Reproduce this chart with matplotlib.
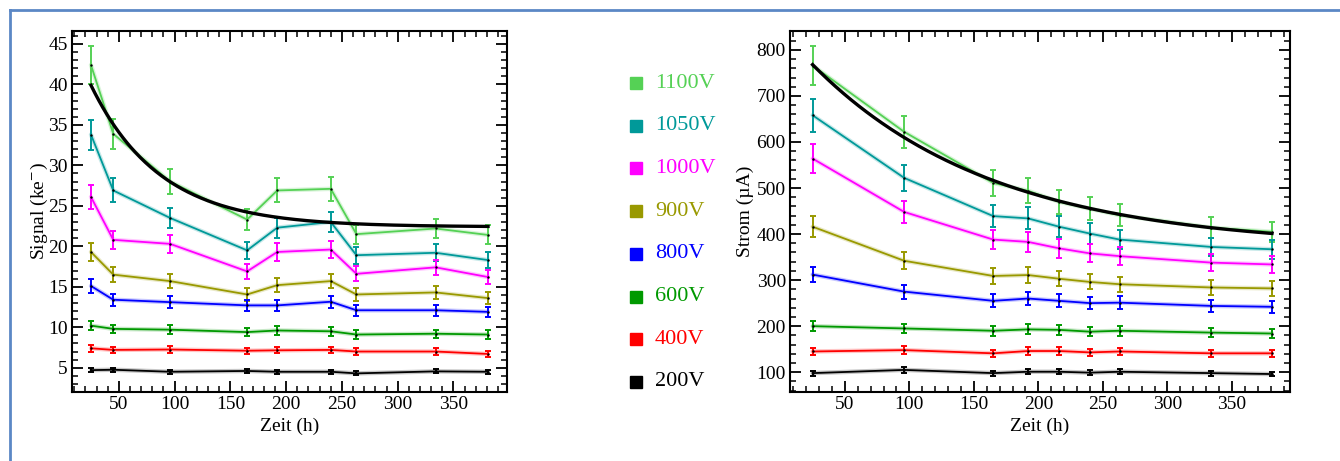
import numpy as np
import matplotlib.pyplot as plt
from matplotlib.lines import Line2D
from matplotlib.patches import Rectangle
from matplotlib.ticker import MultipleLocator

plt.rcParams["font.family"] = ["Liberation Serif", "DejaVu Serif"]
plt.rcParams["mathtext.fontset"] = "stix"

# ---- data ----
voltages = ["1100V", "1050V", "1000V", "900V", "800V", "600V", "400V", "200V"]
colors = ["#55d155", "#009999", "#ff00ff", "#999900", "#0000ff", "#009900", "#ff0000", "#000000"]

zeit_signal = [25, 45, 96, 165, 192, 240, 263, 334, 381]
signal_1100 = [42.4, 33.9, 28.0, 23.3, 26.9, 27.1, 21.5, 22.2, 21.4]
signal_1050 = [33.8, 26.9, 23.5, 19.5, 22.3, 23.0, 18.9, 19.2, 18.3]
signal_1000 = [26.1, 20.8, 20.3, 16.9, 19.3, 19.6, 16.6, 17.4, 16.2]
signal_900 = [19.3, 16.5, 15.7, 14.05, 15.2, 15.7, 14.05, 14.3, 13.6]
signal_800 = [15.1, 13.4, 13.1, 12.7, 12.7, 13.15, 12.1, 12.1, 11.9]
signal_600 = [10.2, 9.8, 9.7, 9.4, 9.6, 9.5, 9.1, 9.2, 9.1]
signal_400 = [7.4, 7.2, 7.25, 7.1, 7.15, 7.2, 7.0, 7.0, 6.7]
signal_200 = [4.7, 4.75, 4.5, 4.6, 4.5, 4.5, 4.3, 4.55, 4.5]
signal_rel_err = 0.055

zeit_strom = [25, 96, 165, 192, 216, 240, 263, 334, 381]
strom_1100 = [766, 622, 511, 494, 470, 455, 441, 414, 405]
strom_1050 = [658, 522, 439, 434, 416, 401, 388, 372, 367]
strom_1000 = [564, 448, 388, 383, 369, 358, 352, 338, 334]
strom_900 = [416, 342, 309, 311, 303, 296, 291, 284, 282]
strom_800 = [312, 275, 255, 260, 255, 250, 251, 244, 242]
strom_600 = [200, 195, 190, 193, 192, 188, 190, 186, 184]
strom_400 = [145, 148, 141, 146, 146, 143, 145, 141, 141]
strom_200 = [98, 105, 98, 101, 101, 99, 101, 98, 96]
strom_rel_err = 0.055

# exponential fit parameters (asymptote, start value, start time, decay time)
signal_fit = (22.4, 39.9, 25, 62.0)
strom_fit = (370.0, 768.0, 25, 140.0)

signal_series = [signal_1100, signal_1050, signal_1000, signal_900,
                 signal_800, signal_600, signal_400, signal_200]
strom_series = [strom_1100, strom_1050, strom_1000, strom_900,
                strom_800, strom_600, strom_400, strom_200]

W, H = 1340, 461
fig = plt.figure(figsize=(W / 100, H / 100), dpi=100)


def px_axes(x0, y0, x1, y1):
    return fig.add_axes([x0 / W, 1 - y1 / H, (x1 - x0) / W, (y1 - y0) / H])


def draw_panel(ax, t, series, rel_err, fit, xmaj, ymaj, ymin_loc):
    for vals, c in zip(series, colors):
        vals = np.asarray(vals, dtype=float)
        ax.plot(t, vals, color=c, lw=3.2, alpha=0.22, solid_capstyle="round", zorder=2)
        ax.errorbar(t, vals, yerr=vals * rel_err, color=c, lw=1.3, elinewidth=1.4,
                    capsize=2.5, capthick=1.4, zorder=3)
        ax.scatter(t, vals, s=3, color="black", zorder=4, linewidths=0)
    a, y0, x0, tau = fit
    tt = np.linspace(t[0], t[-1], 300)
    ax.plot(tt, a + (y0 - a) * np.exp(-(tt - x0) / tau), color="black", lw=2.4, zorder=5)
    ax.xaxis.set_major_locator(MultipleLocator(xmaj))
    ax.xaxis.set_minor_locator(MultipleLocator(10))
    ax.yaxis.set_major_locator(MultipleLocator(ymaj))
    ax.yaxis.set_minor_locator(MultipleLocator(ymin_loc))
    ax.tick_params(which="both", direction="in", top=True, right=True, labelsize=14, pad=3)
    ax.tick_params(which="major", length=8, width=1.3)
    ax.tick_params(which="minor", length=4.5, width=1.1)
    for s in ax.spines.values():
        s.set_linewidth(1.5)
    ax.set_xlabel("Zeit (h)", fontsize=14, labelpad=3)


ax1 = px_axes(72, 31, 507, 392)
draw_panel(ax1, zeit_signal, signal_series, signal_rel_err, signal_fit, 50, 5, 1)
ax1.set_xlim(8, 398)
ax1.set_ylim(2.0, 46.6)
ax1.set_ylabel("Signal (ke$^{-}$)", fontsize=14, labelpad=-1)

ax2 = px_axes(790, 31, 1290, 392)
draw_panel(ax2, zeit_strom, strom_series, strom_rel_err, strom_fit, 50, 100, 20)
ax2.set_xlim(7.5, 395)
ax2.set_ylim(57, 841)
ax2.set_ylabel("Strom (µA)", fontsize=14, labelpad=2)

# legend between the panels
for i, (lab, c) in enumerate(zip(voltages, colors)):
    yc = 83 + i * 42.7
    fig.patches.append(Rectangle((630 / W, 1 - (yc + 6) / H), 12 / W, 12 / H,
                                 transform=fig.transFigure, color=c, figure=fig))
    fig.text(655 / W, 1 - yc / H, lab, color=c, fontsize=16, va="center", ha="left")

# page border lines
border = "#5b87c5"
fig.add_artist(Line2D([10 / W, 1], [1 - 10 / H, 1 - 10 / H], color=border, lw=2,
                      transform=fig.transFigure))
fig.add_artist(Line2D([10 / W, 10 / W], [0, 1 - 10 / H], color=border, lw=2,
                      transform=fig.transFigure))

fig.savefig("out.png", dpi=100)
